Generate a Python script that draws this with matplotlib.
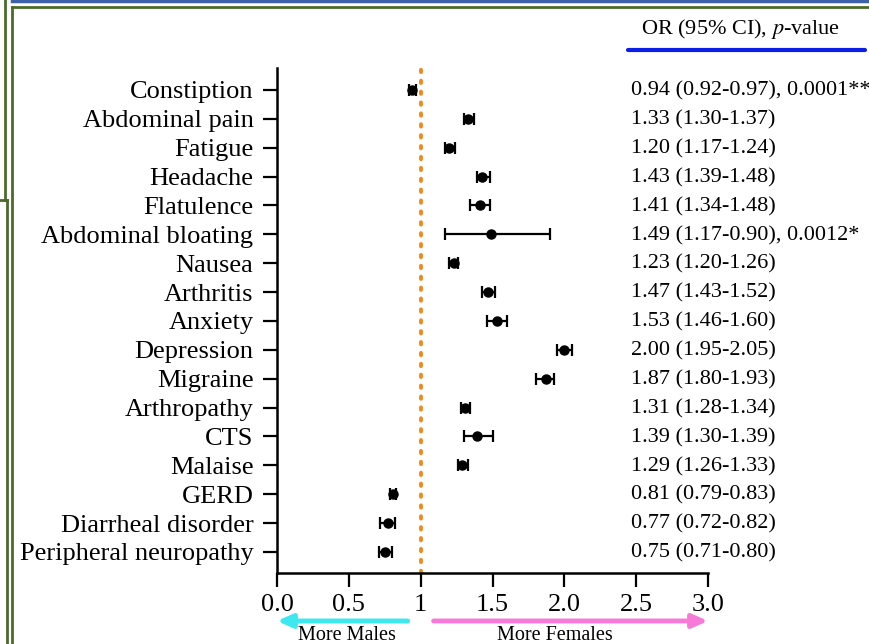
import numpy as np
import matplotlib
matplotlib.use("Agg")
import matplotlib.pyplot as plt
from matplotlib.lines import Line2D
from matplotlib.transforms import blended_transform_factory

plt.rcParams['font.family'] = ['Liberation Serif', 'DejaVu Serif']
plt.rcParams['mathtext.fontset'] = 'stix'

# data (top to bottom)
symptoms = ["Constiption", "Abdominal pain", "Fatigue", "Headache", "Flatulence",
            "Abdominal bloating", "Nausea", "Arthritis", "Anxiety", "Depression",
            "Migraine", "Arthropathy", "CTS", "Malaise", "GERD",
            "Diarrheal disorder", "Peripheral neuropathy"]
odds_ratio = [0.94, 1.33, 1.20, 1.43, 1.41, 1.49, 1.23, 1.47, 1.53, 2.00,
              1.87, 1.31, 1.39, 1.29, 0.81, 0.77, 0.75]
ci_low = [0.92, 1.30, 1.17, 1.39, 1.34, 1.17, 1.20, 1.43, 1.46, 1.95,
          1.80, 1.28, 1.30, 1.26, 0.79, 0.72, 0.71]
ci_high = [0.97, 1.37, 1.24, 1.48, 1.48, 1.90, 1.26, 1.52, 1.60, 2.05,
           1.93, 1.34, 1.50, 1.33, 0.83, 0.82, 0.80]
or_labels = ["0.94 (0.92-0.97), 0.0001**", "1.33 (1.30-1.37)", "1.20 (1.17-1.24)",
             "1.43 (1.39-1.48)", "1.41 (1.34-1.48)", "1.49 (1.17-0.90), 0.0012*",
             "1.23 (1.20-1.26)", "1.47 (1.43-1.52)", "1.53 (1.46-1.60)",
             "2.00 (1.95-2.05)", "1.87 (1.80-1.93)", "1.31 (1.28-1.34)",
             "1.39 (1.30-1.39)", "1.29 (1.26-1.33)", "0.81 (0.79-0.83)",
             "0.77 (0.72-0.82)", "0.75 (0.71-0.80)"]
x_ticks = [0.0, 0.5, 1.0, 1.5, 2.0, 2.5, 3.0]
x_ticklabels = ["0.0", "0.5", "1", "1.5", "2.0", "2.5", "3.0"]

W, H = 869, 644
fig = plt.figure(figsize=(W / 100, H / 100), dpi=100)
ax = fig.add_axes([277 / W, 1 - 573 / H, (708 - 277) / W, (573 - 68) / H])

n = len(symptoms)
ypos = np.arange(n, 0, -1)
orr = np.array(odds_ratio)
err = [orr - np.array(ci_low), np.array(ci_high) - orr]

ax.axvline(1, color='#f08a1c', linestyle=(0, (0.6, 2.2)), linewidth=2.8,
           dash_capstyle='round', ymax=1.01, clip_on=False, zorder=1)
ax.errorbar(orr, ypos, xerr=err, fmt='o', color='black', ecolor='black',
            markersize=6.5, elinewidth=1.6, capsize=4, capthick=1.6, zorder=3)

ax.set_xlim(0, 3)
ax.set_ylim(0.27, n + 0.76)
ax.set_xticks(x_ticks)
ax.set_xticklabels(x_ticklabels)
ax.set_yticks(ypos)
ax.set_yticklabels(symptoms)
ax.tick_params(axis='both', direction='out', length=10, width=1.6, labelsize=19,
               color='black')
ax.tick_params(axis='y', pad=7)
ax.tick_params(axis='x', pad=5)
for s in ['top', 'right']:
    ax.spines[s].set_visible(False)
for s in ['left', 'bottom']:
    ax.spines[s].set_linewidth(1.8)

# right column of OR values
tr = blended_transform_factory(fig.transFigure, ax.transData)
for y, lab in zip(ypos, or_labels):
    ax.text(631 / W, y - 0.04, lab, transform=tr, ha='left', va='center',
            fontsize=16, clip_on=False)
fig.text(741 / W, 1 - 29 / H, "OR (95% CI), $\\it{p}$-value", ha='center',
         va='center', fontsize=16)
fig.add_artist(Line2D([628 / W, 865 / W], [1 - 50 / H, 1 - 50 / H],
                      color='#0a1ee6', linewidth=3, solid_capstyle='round'))

# arrows under the axis
ax.annotate("", xy=(0.0, -0.095), xytext=(0.91, -0.095),
            xycoords=('data', 'axes fraction'),
            arrowprops=dict(arrowstyle='-|>,head_length=0.9,head_width=0.4',
                            color='#3ee8f0', lw=3.5, shrinkA=0, shrinkB=0))
ax.annotate("", xy=(3.0, -0.095), xytext=(1.09, -0.095),
            xycoords=('data', 'axes fraction'),
            arrowprops=dict(arrowstyle='-|>,head_length=0.9,head_width=0.4',
                            color='#f77ad8', lw=3.5, shrinkA=0, shrinkB=0))
fig.text(347 / W, 1 - 626 / H, "More Males", ha='center', va='top', fontsize=14.5)
fig.text(555 / W, 1 - 626 / H, "More Females", ha='center', va='top', fontsize=14.5)

# frame remnants of the page
def px_line(xs, ys, color, lw):
    fig.add_artist(Line2D([x / W for x in xs], [1 - y / H for y in ys],
                          color=color, linewidth=lw))

px_line([12, W], [1, 1], '#3d62a8', 2.5)
px_line([12, W], [7, 7], '#4b6b2b', 2)
px_line([12, 12], [7, H], '#4b6b2b', 2)
px_line([5, 5], [0, 200], '#4b6b2b', 2)
px_line([0, 7], [200, 200], '#4b6b2b', 2)
px_line([7, 7], [200, H], '#4b6b2b', 2)

fig.savefig("out.png", dpi=100)
